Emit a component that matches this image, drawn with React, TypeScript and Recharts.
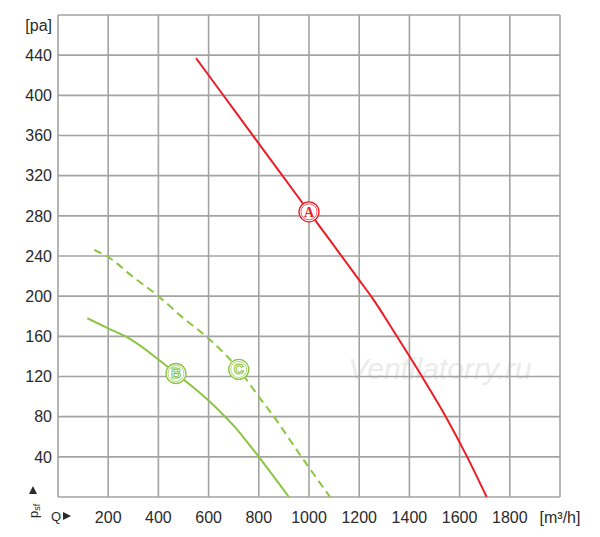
import React from 'react';
import { ComposedChart, Line, Scatter, XAxis, YAxis, CartesianGrid } from 'recharts';

// flow Q [m3/h] vs static pressure psf [pa]
const curveA = [
  { q: 550, p: 437 },
  { q: 600, p: 420 },
  { q: 700, p: 386 },
  { q: 800, p: 352 },
  { q: 900, p: 318 },
  { q: 1000, p: 284 },
  { q: 1100, p: 250 },
  { q: 1200, p: 216 },
  { q: 1250, p: 199 },
  { q: 1350, p: 160 },
  { q: 1450, p: 120 },
  { q: 1545, p: 80 },
  { q: 1630, p: 40 },
  { q: 1708, p: 0 },
];

const curveB = [
  { q: 117, p: 178 },
  { q: 200, p: 168 },
  { q: 290, p: 157 },
  { q: 400, p: 137 },
  { q: 470, p: 123 },
  { q: 530, p: 111 },
  { q: 600, p: 96 },
  { q: 650, p: 84 },
  { q: 700, p: 71 },
  { q: 750, p: 56 },
  { q: 800, p: 40 },
  { q: 920, p: 0 },
];

const curveC = [
  { q: 145, p: 246 },
  { q: 200, p: 239 },
  { q: 300, p: 219 },
  { q: 400, p: 200 },
  { q: 500, p: 178 },
  { q: 590, p: 160 },
  { q: 720, p: 127 },
  { q: 800, p: 100 },
  { q: 860, p: 80 },
  { q: 970, p: 40 },
  { q: 1084, p: 0 },
];

const markers = [
  { q: 1000, p: 284, label: 'A', color: '#ee1d25' },
  { q: 470, p: 123, label: 'B', color: '#8cc540' },
  { q: 720, p: 127, label: 'C', color: '#8cc540' },
];

const xTicks = [0, 200, 400, 600, 800, 1000, 1200, 1400, 1600, 1800, 2000];
const yTicks = [0, 40, 80, 120, 160, 200, 240, 280, 320, 360, 400, 440, 480];

const RED = '#ee1d25';
const GREEN = '#8cc540';
const GRID = '#a3a3a3';
const FONT = '"Liberation Sans", Arial, sans-serif';

const renderMarker = (props: any) => {
  const { cx, cy, payload } = props;
  const c = payload.color;
  return (
    <g>
      <circle cx={cx} cy={cy} r={10} fill="#fff" stroke={c} strokeWidth={1.3} />
      <circle cx={cx} cy={cy} r={8} fill="none" stroke={c} strokeWidth={0.7} />
      <text
        x={cx}
        y={cy + 5}
        textAnchor="middle"
        fontSize={14}
        fontWeight="bold"
        fontFamily={payload.label === 'A' ? '"Liberation Serif", serif' : FONT}
        fill={payload.label === 'A' ? c : '#fff'}
        stroke={payload.label === 'A' ? 'none' : c}
        strokeWidth={1}
      >
        {payload.label}
      </text>
    </g>
  );
};

export default function App() {
  return (
    <div style={{ position: 'relative', width: 600, height: 537 }}>
      <style>{'body{margin:0}'}</style>
      <svg width={600} height={537} style={{ position: 'absolute', left: 0, top: 0 }}>
        <text x={440} y={379} textAnchor="middle" fontSize={30} fontStyle="italic"
          fontFamily={FONT} fill="#ebebeb">
          Ventilatorry.ru
        </text>
      </svg>
      <div style={{ position: 'absolute', left: 0, top: 0 }}>
        <ComposedChart width={600} height={537} margin={{ top: 15, right: 40, bottom: 10, left: 0 }}>
          <CartesianGrid stroke={GRID} strokeWidth={1.6} />
          <XAxis
            type="number"
            dataKey="q"
            domain={[0, 2000]}
            ticks={xTicks}
            height={30}
            axisLine={false}
            tickLine={false}
            tickSize={0}
            tickMargin={15}
            interval={0}
            tick={{ fontSize: 16, fill: '#2a2a2a', fontFamily: FONT }}
            tickFormatter={(v: number) => (v === 0 ? '' : v === 2000 ? '[m³/h]' : String(v))}
          />
          <YAxis
            type="number"
            dataKey="p"
            domain={[0, 480]}
            ticks={yTicks}
            width={58}
            axisLine={false}
            tickLine={false}
            tickSize={0}
            tickMargin={6}
            interval={0}
            tick={{ fontSize: 16, fill: '#2a2a2a', fontFamily: FONT }}
            tickFormatter={(v: number) => (v === 0 || v === 480 ? '' : String(v))}
          />
          <Line data={curveA} dataKey="p" type="monotone" stroke={RED} strokeWidth={2}
            dot={false} isAnimationActive={false} />
          <Line data={curveB} dataKey="p" type="monotone" stroke={GREEN} strokeWidth={2}
            dot={false} isAnimationActive={false} />
          <Line data={curveC} dataKey="p" type="monotone" stroke={GREEN} strokeWidth={2}
            strokeDasharray="8 5" dot={false} isAnimationActive={false} />
          <Scatter data={markers} dataKey="p" shape={renderMarker} isAnimationActive={false} />
        </ComposedChart>
      </div>
      <svg width={600} height={537} style={{ position: 'absolute', left: 0, top: 0, pointerEvents: 'none' }}>
        <text x={52} y={31} textAnchor="end" fontSize={16} fontFamily={FONT} fill="#2a2a2a">[pa]</text>
        <text transform="translate(38,518) rotate(-90)" fontSize={13} fontFamily={FONT} fill="#2a2a2a">
          p<tspan fontSize={9} dy={2}>sf</tspan>
        </text>
        <polygon points="29,494 37,494 33,486" fill="#2a2a2a" />
        <text x={51} y={521} fontSize={13} fontFamily={FONT} fill="#2a2a2a">Q</text>
        <polygon points="63,512 63,520 71,516" fill="#2a2a2a" />
      </svg>
    </div>
  );
}
